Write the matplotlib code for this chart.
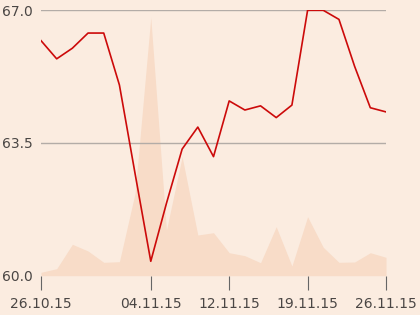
import matplotlib
matplotlib.use("Agg")
import matplotlib.pyplot as plt

# trading-day index -> price, volume (volume in arbitrary units)
price = [66.20, 65.72, 66.00, 66.40, 66.40, 65.03, 62.69, 60.38, 61.91, 63.34,
         63.92, 63.14, 64.61, 64.37, 64.48, 64.17, 64.50, 67.00, 67.00, 66.76,
         65.52, 64.43, 64.32]
volume = [3.4, 7.0, 31.4, 24.7, 13.4, 14.0, 82.7, 258.4, 45.7, 119.0,
          40.7, 43.0, 23.0, 20.0, 13.0, 49.0, 9.7, 59.0, 28.4, 13.4,
          13.7, 23.0, 18.4]
tick_pos = [0, 7, 12, 17, 22]
tick_labels = ["26.10.15", "04.11.15", "12.11.15", "19.11.15", "26.11.15"]
y_ticks = [60.0, 63.5, 67.0]

BG = "#fbece0"
AREA = "#f8dcc8"
RED = "#cc0a0a"
TEXT = "#4a4644"

fig = plt.figure(figsize=(4.2, 3.15), dpi=100, facecolor=BG)
ax = fig.add_axes([41 / 420, 1 - 275.7 / 315, 345 / 420, 265.4 / 315])
ax_vol = ax.twinx()

x = list(range(len(price)))

ax_vol.fill_between(x, volume, 0, color=AREA, linewidth=0)
ax_vol.set_ylim(0, 265.4)
ax_vol.axis("off")

ax.set_zorder(ax_vol.get_zorder() + 1)
ax.patch.set_visible(False)
ax_vol.patch.set_facecolor(BG)

ax.plot(x, price, color=RED, lw=1.2, zorder=3)
ax.set_xlim(0, len(price) - 1)
ax.set_ylim(60.0, 67.0)

ax.set_yticks(y_ticks)
ax.set_yticklabels(["%.1f" % v for v in y_ticks])
ax.set_xticks(tick_pos)
ax.set_xticklabels(tick_labels)
for v in y_ticks[1:]:
    ax.axhline(v, color="#b3aca7", lw=1.0, zorder=2)

for s in ax.spines.values():
    s.set_visible(False)
ax.tick_params(axis="y", length=0, pad=6, labelsize=10, labelcolor=TEXT)
ax.tick_params(axis="x", length=10, width=0.8, color="#666666", pad=5,
               labelsize=10, labelcolor=TEXT)

fig.savefig("out.png", dpi=100, facecolor=BG)
